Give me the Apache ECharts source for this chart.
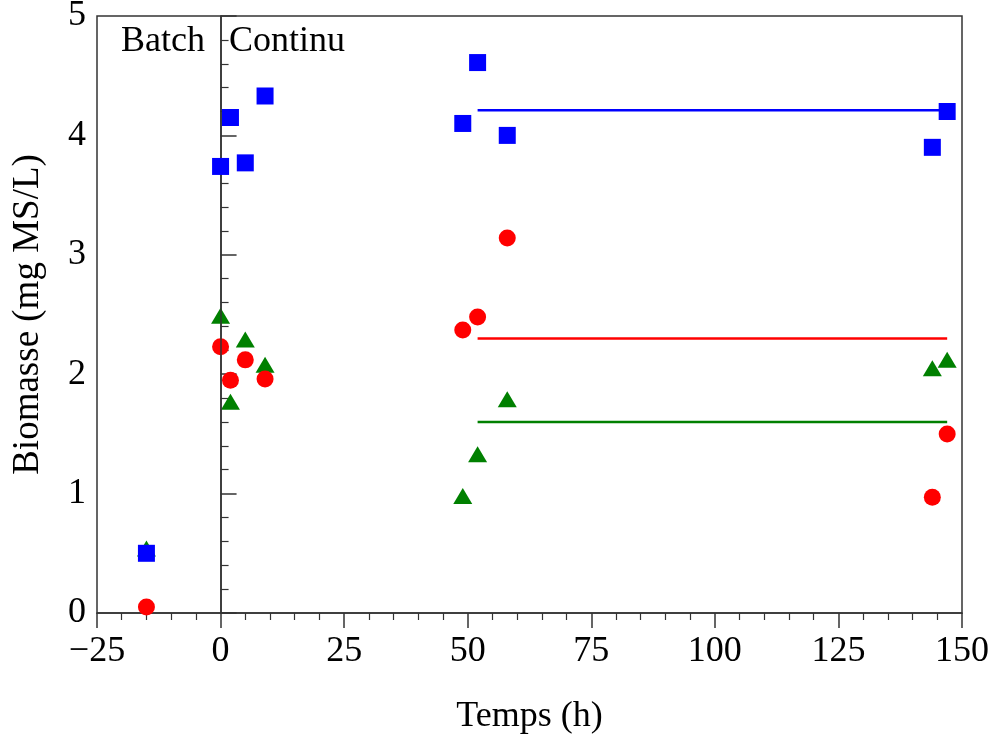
<!DOCTYPE html>
<html>
<head>
<meta charset="utf-8">
<script src="https://cdn.jsdelivr.net/npm/echarts@6/dist/echarts.min.js"></script>
<style>html,body{margin:0;padding:0;background:#fff}#c{width:990px;height:736px}</style>
</head>
<body>
<div id="c"></div>
<script>
// ---- data ----
const timesBlue  = [-15, 0, 2, 5, 9, 49, 52, 58, 144, 147];
const biomBlue   = [0.50, 3.74, 4.15, 3.77, 4.33, 4.10, 4.61, 4.00, 3.90, 4.20];
const timesRed   = [-15, 0, 2, 5, 9, 49, 52, 58, 144, 147];
const biomRed    = [0.05, 2.23, 1.95, 2.12, 1.96, 2.37, 2.48, 3.14, 0.97, 1.50];
const timesGreen = [-15, 0, 2, 5, 9, 49, 52, 58, 144, 147];
const biomGreen  = [0.54, 2.49, 1.77, 2.29, 2.08, 0.98, 1.33, 1.79, 2.05, 2.12];
const meanStart = 52;
const meanEnd = 147;
const meanBlue = 4.21;
const meanRed = 2.30;
const meanGreen = 1.60;
const phaseSwitch = 0;
const phaseLabels = ['Batch', 'Continu'];
const xTicks = [-25, 0, 25, 50, 75, 100, 125, 150];
const yTicks = [0, 1, 2, 3, 4, 5];

const zip = (xs, ys) => xs.map((x, i) => [x, ys[i]]);
const FONT = '"Liberation Serif", "Times New Roman", serif';
const AX = '#333';

const chart = echarts.init(document.getElementById('c'), null, {renderer: 'canvas'});
chart.setOption({
  animation: false,
  backgroundColor: '#fff',
  grid: {left: 97, right: 28, top: 16, bottom: 123, show: true, borderColor: AX, borderWidth: 1.5,
    backgroundColor: 'transparent', containLabel: false, outerBoundsMode: 'none'},
  xAxis: {
    type: 'value', min: xTicks[0], max: xTicks[xTicks.length - 1], interval: 25,
    name: 'Temps (h)', nameLocation: 'middle', nameGap: 86,
    nameTextStyle: {fontFamily: FONT, fontSize: 36, color: '#000'},
    axisLine: {lineStyle: {color: AX, width: 1.5}},
    axisTick: {inside: false, length: 15, lineStyle: {color: AX, width: 1.5}},
    minorTick: {show: true, splitNumber: 5, length: 7, lineStyle: {color: AX, width: 1.2}},
    splitLine: {show: false},
    axisLabel: {fontFamily: FONT, fontSize: 36, color: '#000', margin: 21,
      formatter: v => String(v).replace('-', '\u2212')}
  },
  yAxis: {
    type: 'value', min: yTicks[0], max: yTicks[yTicks.length - 1], interval: 1,
    name: 'Biomasse (mg MS/L)', nameLocation: 'middle', nameGap: 50, nameRotate: 90,
    nameTextStyle: {fontFamily: FONT, fontSize: 37, color: '#000'},
    axisLine: {lineStyle: {color: AX, width: 1.5}},
    axisTick: {inside: true, length: 16, lineStyle: {color: AX, width: 1.5}},
    minorTick: {show: true, splitNumber: 5, length: 8, lineStyle: {color: AX, width: 1.2}},
    splitLine: {show: false},
    axisLabel: {fontFamily: FONT, fontSize: 36, color: '#000', margin: 11}
  },
  series: [
    {type: 'line', data: [[meanStart, meanGreen], [meanEnd, meanGreen]], showSymbol: false, symbol: 'none',
      lineStyle: {color: '#008000', width: 2.5}, z: 2,
      markLine: {silent: true, symbol: 'none', label: {show: false},
        lineStyle: {color: AX, width: 1.5, type: 'solid'}, data: [{xAxis: phaseSwitch}]}},
    {type: 'line', data: [[meanStart, meanRed], [meanEnd, meanRed]], symbol: 'none',
      lineStyle: {color: '#ff0000', width: 2.5}, z: 2},
    {type: 'line', data: [[meanStart, meanBlue], [meanEnd, meanBlue]], symbol: 'none',
      lineStyle: {color: '#0000ff', width: 2.5}, z: 2},
    {type: 'scatter', data: zip(timesGreen, biomGreen), symbol: 'triangle', symbolSize: [19, 16],
      itemStyle: {color: '#008000', opacity: 1}, z: 3},
    {type: 'scatter', data: zip(timesRed, biomRed), symbol: 'circle', symbolSize: 17,
      itemStyle: {color: '#ff0000', opacity: 1}, z: 4},
    {type: 'scatter', data: zip(timesBlue, biomBlue), symbol: 'rect', symbolSize: 17,
      itemStyle: {color: '#0000ff', opacity: 1}, z: 5}
  ],
  graphic: [
    {type: 'text', left: 121, top: 24, style: {text: phaseLabels[0], font: '36px ' + FONT, fill: '#000'}},
    {type: 'text', left: 229, top: 24, style: {text: phaseLabels[1], font: '36px ' + FONT, fill: '#000'}}
  ]
});
</script>
</body>
</html>
